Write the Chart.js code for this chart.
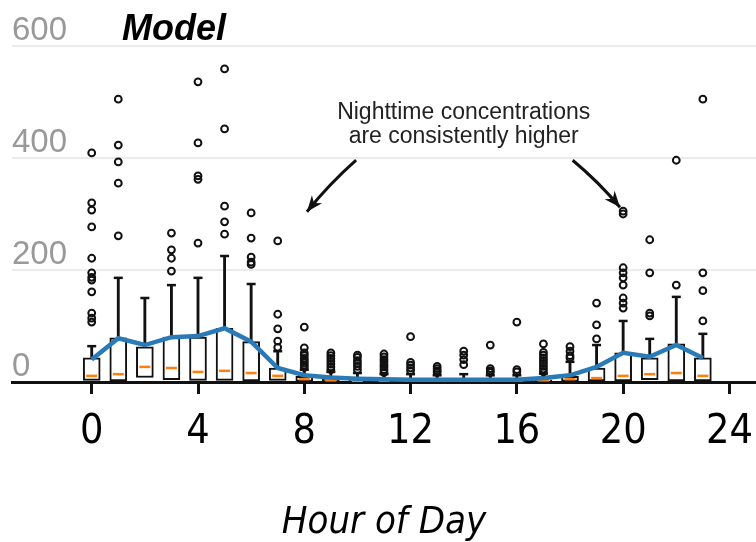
<!DOCTYPE html>
<html lang="en">
<head>
    <meta charset="UTF-8">
    <title>Model - Hour of Day</title>
    <script src="https://cdn.jsdelivr.net/npm/chart.js"></script>
    <style>
        html, body {
            margin: 0;
            padding: 0;
            background-color: #ffffff;
        }
        canvas {
            display: block;
        }
    </style>
</head>
<body>
    <canvas id="modelChart" width="756" height="542"></canvas>

    <script>
        // values
        const hours = [0, 1, 2, 3, 4, 5, 6, 7, 8, 9, 10, 11, 12, 13, 14, 15, 16, 17, 18, 19, 20, 21, 22, 23];
        const q1Vals = [3, 2, 8, 4, 3, 3, 2, 3, 1, 1, 1, 1, 1, 1, 1, 1, 1, 1, 1, 2, 2, 4, 2, 2];
        const medianVals = [11, 14, 27, 25, 18, 20, 16, 11, 5, 3, 2, 2, 2, 2, 2, 2, 2, 3, 5, 7, 11, 14, 16, 11];
        const q3Vals = [43, 79, 63, 80, 80, 96, 72, 25, 10, 6, 5, 4, 4, 3, 3, 3, 3, 4, 10, 25, 52, 43, 68, 43];
        const whiskerTop = [64, 186, 150, 173, 186, 225, 175, 55, 22, 18, 16, 14, 14, 12, 14, 12, 12, 15, 36, 66, 109, 77, 152, 86];
        const meanVals = [40, 78, 66, 80, 82, 96, 72, 25, 12, 8, 6, 5, 4, 4, 4, 4, 4, 7, 12, 27, 52, 45, 66, 43];
        const outliers = [
            [409, 320, 307, 277, 221, 195, 187, 182, 161, 123, 114, 107],
            [505, 423, 393, 355, 261],
            [],
            [266, 236, 221, 198],
            [536, 427, 368, 362, 248],
            [559, 452, 314, 286, 264],
            [302, 257, 223, 214, 210],
            [252, 121, 95, 73, 62],
            [98, 61, 52, 47, 42, 38, 34, 30, 26],
            [52, 47, 42, 37, 32, 27, 22],
            [48, 44, 38, 33, 28, 22],
            [50, 45, 40, 36, 31, 27, 22, 17],
            [81, 35, 30, 25, 20],
            [28, 24, 20, 17],
            [55, 48, 40, 31],
            [66, 24, 20, 17],
            [107, 22, 18],
            [68, 53, 48, 43, 38, 33, 28, 23, 18],
            [63, 55, 47, 43],
            [141, 102, 77],
            [305, 300, 204, 195, 186, 173, 150, 141, 132],
            [254, 195, 123, 118],
            [396, 173],
            [505, 195, 163, 109]
        ];
        const xTicks = [0, 4, 8, 12, 16, 20, 24];
        const yTicks = [0, 200, 400, 600];

        const chartTitle = 'Model';
        const xTitle = 'Hour of Day';
        const noteLines = ['Nighttime concentrations', 'are consistently higher'];

        const blue = '#2a7ab8';
        const orange = '#ff7f0e';
        const ink = '#111111';
        const narrowFont = '"Liberation Sans Narrow", "DejaVu Sans Condensed", sans-serif';

        function arrow(ctx, x0, y0, x1, y1, bend) {
            const mx = (x0 + x1) / 2, my = (y0 + y1) / 2;
            const dx = x1 - x0, dy = y1 - y0;
            const len = Math.hypot(dx, dy);
            const cx = mx - dy / len * bend, cy = my + dx / len * bend;
            ctx.beginPath();
            ctx.moveTo(x0, y0);
            ctx.quadraticCurveTo(cx, cy, x1, y1);
            ctx.stroke();
            const ang = Math.atan2(y1 - cy, x1 - cx);
            const hl = 16, hw = 6.5;
            ctx.beginPath();
            ctx.moveTo(x1, y1);
            ctx.lineTo(x1 - hl * Math.cos(ang) + hw * Math.sin(ang), y1 - hl * Math.sin(ang) - hw * Math.cos(ang));
            ctx.lineTo(x1 - hl * 0.7 * Math.cos(ang), y1 - hl * 0.7 * Math.sin(ang));
            ctx.lineTo(x1 - hl * Math.cos(ang) - hw * Math.sin(ang), y1 - hl * Math.sin(ang) + hw * Math.cos(ang));
            ctx.closePath();
            ctx.fill();
        }

        const notesPlugin = {
            id: 'notes',
            afterDraw(chart) {
                const { ctx, scales: { x, y } } = chart;
                ctx.save();
                ctx.fillStyle = '#000';
                ctx.font = 'italic bold 36px "Liberation Sans", Arial, sans-serif';
                ctx.textAlign = 'left';
                ctx.textBaseline = 'alphabetic';
                ctx.fillText(chartTitle, x.getPixelForValue(1.14), 40);

                ctx.fillStyle = '#222';
                ctx.font = '23px "Liberation Sans", Arial, sans-serif';
                ctx.textAlign = 'center';
                ctx.fillText(noteLines[0], x.getPixelForValue(14.0), y.getPixelForValue(470));
                ctx.fillText(noteLines[1], x.getPixelForValue(14.0), y.getPixelForValue(427));

                ctx.strokeStyle = '#111';
                ctx.fillStyle = '#111';
                ctx.lineWidth = 3;
                arrow(ctx, x.getPixelForValue(9.95), y.getPixelForValue(396),
                           x.getPixelForValue(8.1), y.getPixelForValue(304), 3);
                arrow(ctx, x.getPixelForValue(18.1), y.getPixelForValue(396),
                           x.getPixelForValue(19.88), y.getPixelForValue(312), -3);
                ctx.restore();
            }
        };

        function noPadding(scale) {
            scale.paddingLeft = 0;
            scale.paddingRight = 0;
            scale.paddingTop = 0;
            scale.paddingBottom = 0;
        }

        const outlierPoints = hours.flatMap((h, i) => outliers[i].map(v => ({ x: h, y: v })));

        new Chart(document.getElementById('modelChart'), {
            type: 'bar',
            data: {
                datasets: [
                    {
                        type: 'scatter',
                        data: outlierPoints,
                        pointStyle: 'circle',
                        radius: 3.4,
                        borderWidth: 2,
                        borderColor: ink,
                        backgroundColor: 'rgba(0,0,0,0)',
                        order: 0
                    },
                    {
                        type: 'line',
                        data: hours.map((h, i) => ({ x: h, y: meanVals[i] })),
                        borderColor: blue,
                        borderWidth: 4.5,
                        pointRadius: 0,
                        tension: 0,
                        order: 1
                    },
                    {
                        type: 'scatter',
                        data: hours.map((h, i) => ({ x: h, y: medianVals[i] })),
                        pointStyle: 'line',
                        radius: 5.5,
                        borderWidth: 2.5,
                        borderColor: orange,
                        order: 2
                    },
                    {
                        type: 'scatter',
                        data: hours.map((h, i) => ({ x: h, y: whiskerTop[i] })),
                        pointStyle: 'line',
                        radius: 4.5,
                        borderWidth: 2.5,
                        borderColor: ink,
                        order: 3
                    },
                    {
                        data: hours.map((h, i) => ({ x: h, y: [q1Vals[i], q3Vals[i]] })),
                        backgroundColor: '#ffffff',
                        borderColor: ink,
                        borderWidth: 2,
                        borderSkipped: false,
                        barThickness: 17,
                        grouped: false,
                        order: 4
                    },
                    {
                        data: hours.map((h, i) => ({ x: h, y: [q3Vals[i], whiskerTop[i]] })),
                        backgroundColor: ink,
                        borderWidth: 0,
                        barThickness: 2.2,
                        grouped: false,
                        order: 5
                    }
                ]
            },
            options: {
                responsive: false,
                animation: false,
                layout: {
                    autoPadding: false,
                    padding: { left: 12, right: 0, top: 46, bottom: 0 }
                },
                plugins: {
                    legend: { display: false },
                    tooltip: { enabled: false }
                },
                scales: {
                    x: {
                        type: 'linear',
                        min: -3,
                        max: 25,
                        offset: false,
                        afterBuildTicks: (scale) => {
                            scale.ticks = xTicks.map(v => ({ value: v }));
                        },
                        afterFit: (scale) => {
                            scale.height = 160;
                            noPadding(scale);
                        },
                        border: { display: true, color: ink, width: 3 },
                        grid: {
                            display: true,
                            offset: false,
                            drawOnChartArea: false,
                            drawTicks: true,
                            tickLength: 12,
                            tickColor: ink,
                            tickWidth: 3
                        },
                        ticks: {
                            color: '#000',
                            padding: 18,
                            maxRotation: 0,
                            font: { family: narrowFont, size: 41, lineHeight: 1 }
                        },
                        title: {
                            display: true,
                            text: xTitle,
                            color: '#000',
                            padding: { top: 30, bottom: 0 },
                            font: { family: narrowFont, size: 38, style: 'italic', lineHeight: 1 }
                        }
                    },
                    y: {
                        min: 0,
                        max: 600,
                        afterBuildTicks: (scale) => {
                            scale.ticks = yTicks.map(v => ({ value: v }));
                        },
                        afterFit: (scale) => {
                            scale.width = 0;
                            noPadding(scale);
                        },
                        border: { display: false },
                        grid: {
                            drawTicks: false,
                            lineWidth: 2,
                            color: (c) => c.tick && c.tick.value === 0 ? 'rgba(0,0,0,0)' : '#ebebeb'
                        },
                        ticks: {
                            mirror: true,
                            padding: 0,
                            labelOffset: -15,
                            color: '#999999',
                            font: { family: '"Liberation Sans", Arial, sans-serif', size: 33, lineHeight: 1.2 }
                        }
                    }
                }
            },
            plugins: [notesPlugin]
        });
    </script>
</body>
</html>
